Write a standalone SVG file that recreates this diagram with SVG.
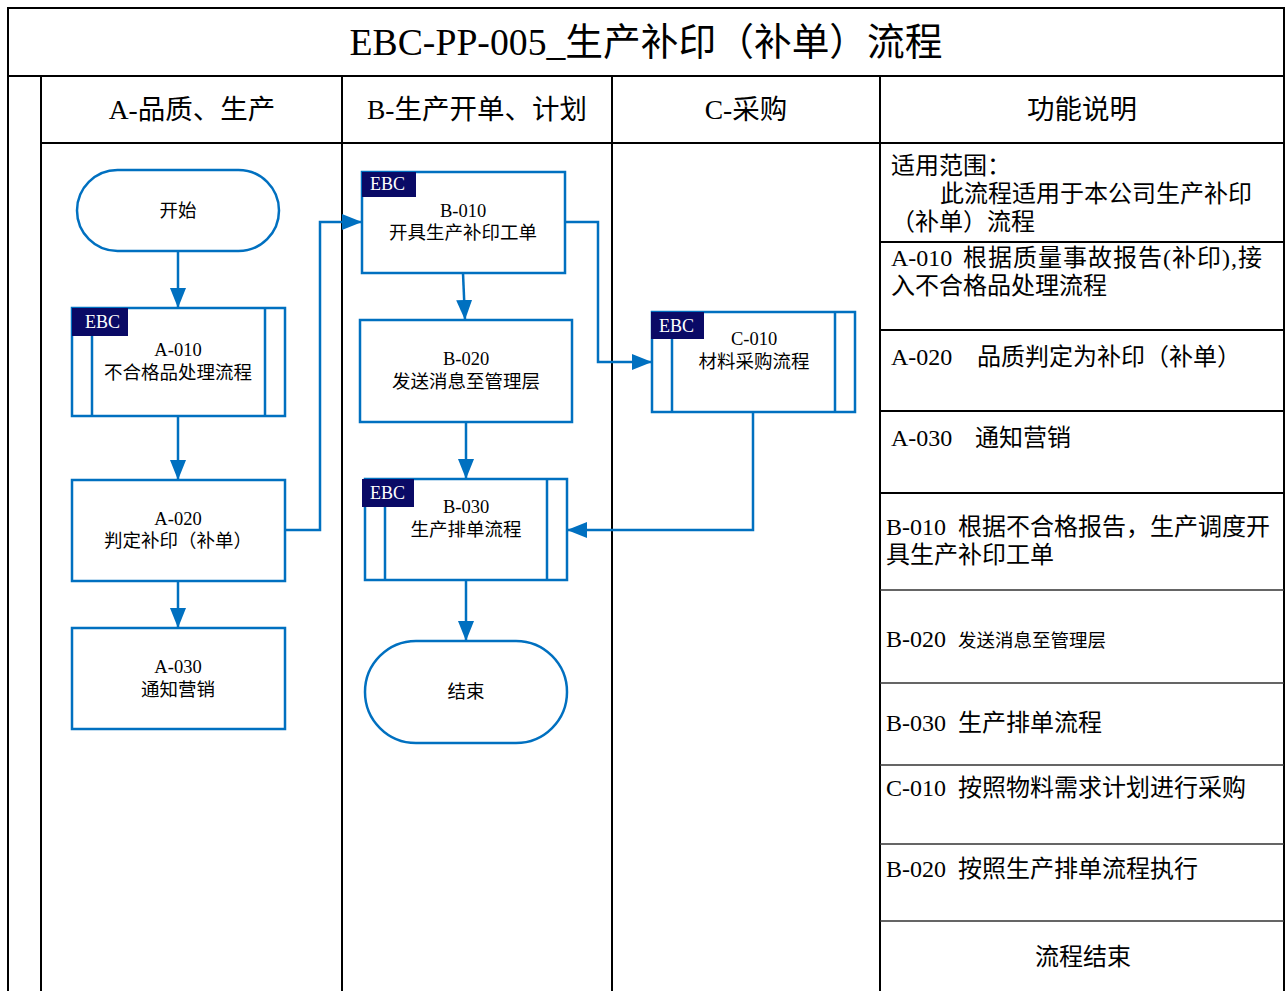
<svg xmlns="http://www.w3.org/2000/svg" width="1285" height="991" viewBox="0 0 1285 991">
<style>
.frame{stroke:#000;stroke-width:2;fill:none}
.thin{stroke:#333;stroke-width:1.5;fill:none}
.box{fill:#fff;stroke:#0070C0;stroke-width:2.5}
.sub{stroke:#0070C0;stroke-width:2.5;fill:none}
.tag{fill:#0a0a66}
.tagt{font-family:"Liberation Serif","Noto Sans CJK SC",serif;font-size:18px;fill:#fff}
.nt{font-family:"Liberation Serif","Noto Sans CJK SC",serif;font-size:18.5px;fill:#000;text-anchor:middle}
.hd{font-family:"Liberation Serif","Noto Sans CJK SC",serif;font-size:27.5px;fill:#000;text-anchor:middle}
.ft{font-family:"Liberation Serif","Noto Sans CJK SC",serif;font-size:24px;fill:#000}
.conn{stroke:#0070C0;stroke-width:2.5;fill:none;marker-end:url(#arr)}
</style>
<defs>
<marker id="arr" viewBox="0 0 20 16" refX="20" refY="8" markerWidth="20" markerHeight="16" markerUnits="userSpaceOnUse" orient="auto">
<path d="M0,0 L20,8 L0,16 z" fill="#0070C0"/>
</marker>
</defs>
<rect x="0" y="0" width="1285" height="991" fill="#fff"/>
<g id="frame">
<path class="frame" d="M8,991 V8 H1284 V991"/>
<path class="frame" d="M8,76 H1284 M41,143 H1284 M41,76 V991 M342,76 V991 M612,76 V991 M880,76 V991"/>
<text x="646" y="55" font-family="'Liberation Serif','Noto Sans CJK SC',serif" font-size="38" text-anchor="middle" textLength="593" lengthAdjust="spacingAndGlyphs">EBC-PP-005_生产补印（补单）流程</text>
<text class="hd" x="192" y="119">A-品质、生产</text>
<text class="hd" x="477" y="119">B-生产开单、计划</text>
<text class="hd" x="746" y="119">C-采购</text>
<text class="hd" x="1082" y="119">功能说明</text>
</g>
<g id="functions">
<path class="frame" d="M880,242 H1284 M880,330 H1284 M880,411 H1284 M880,493 H1284"/>
<path class="thin" d="M880,590 H1284 M880,683 H1284 M880,765 H1284 M880,844 H1284 M880,921 H1284"/>
<text class="ft" x="891" y="174">适用范围：</text>
<text class="ft" x="940" y="202">此流程适用于本公司生产补印</text>
<text class="ft" x="891" y="230">（补单）流程</text>
<text class="ft" y="266"><tspan x="891">A-010</tspan><tspan x="963" textLength="299" lengthAdjust="spacing">根据质量事故报告(补印),接</tspan></text>
<text class="ft" x="891" y="294">入不合格品处理流程</text>
<text class="ft" y="365"><tspan x="891">A-020</tspan><tspan x="977">品质判定为补印（补单）</tspan></text>
<text class="ft" y="446"><tspan x="891">A-030</tspan><tspan x="975">通知营销</tspan></text>
<text class="ft" y="535"><tspan x="886">B-010</tspan><tspan x="958">根据不合格报告，生产调度开</tspan></text>
<text class="ft" x="886" y="563">具生产补印工单</text>
<text class="ft" y="647"><tspan x="886">B-020</tspan><tspan x="958" font-size="18.5">发送消息至管理层</tspan></text>
<text class="ft" y="731"><tspan x="886">B-030</tspan><tspan x="958">生产排单流程</tspan></text>
<text class="ft" y="796"><tspan x="886">C-010</tspan><tspan x="958">按照物料需求计划进行采购</tspan></text>
<text class="ft" y="877"><tspan x="886">B-020</tspan><tspan x="958">按照生产排单流程执行</tspan></text>
<text class="ft" x="1083" y="965" text-anchor="middle">流程结束</text>
</g>
<g id="connectors">
<path class="conn" d="M178,251 V308"/>
<path class="conn" d="M178,416 V480"/>
<path class="conn" d="M178,581 V628"/>
<path class="conn" d="M285,530 H320 V222 H362"/>
<path class="conn" d="M463,273 L465,320"/>
<path class="conn" d="M466,422 V479"/>
<path class="conn" d="M565,222 H598 V362 H652"/>
<path class="conn" d="M753,412 V530 H567"/>
<path class="conn" d="M466,580 V641"/>
</g>
<g id="start">
<rect class="box" x="77" y="170" width="202" height="81" rx="40.5"/>
<text class="nt" x="178" y="217">开始</text>
</g>
<g id="a010">
<rect class="box" x="72" y="308" width="213" height="108"/>
<path class="sub" d="M92,308 V416 M265,308 V416"/>
<rect class="tag" x="72" y="308" width="56" height="28"/>
<text class="tagt" x="85" y="328">EBC</text>
<text class="nt" x="178" y="356">A-010</text>
<text class="nt" x="178" y="379">不合格品处理流程</text>
</g>
<g id="a020">
<rect class="box" x="72" y="480" width="213" height="101"/>
<text class="nt" x="178" y="525">A-020</text>
<text class="nt" x="178" y="547">判定补印（补单）</text>
</g>
<g id="a030">
<rect class="box" x="72" y="628" width="213" height="101"/>
<text class="nt" x="178" y="673">A-030</text>
<text class="nt" x="178" y="696">通知营销</text>
</g>
<g id="b010">
<rect class="box" x="362" y="172" width="203" height="101"/>
<rect class="tag" x="362" y="172" width="54" height="25"/>
<text class="tagt" x="370" y="190">EBC</text>
<text class="nt" x="463" y="217">B-010</text>
<text class="nt" x="463" y="239">开具生产补印工单</text>
</g>
<g id="b020">
<rect class="box" x="360" y="320" width="212" height="102"/>
<text class="nt" x="466" y="365">B-020</text>
<text class="nt" x="466" y="388">发送消息至管理层</text>
</g>
<g id="b030">
<rect class="box" x="365" y="479" width="202" height="101"/>
<path class="sub" d="M385,479 V580 M547,479 V580"/>
<rect class="tag" x="362" y="479" width="52" height="28"/>
<text class="tagt" x="370" y="499">EBC</text>
<text class="nt" x="466" y="513">B-030</text>
<text class="nt" x="466" y="536">生产排单流程</text>
</g>
<g id="end">
<rect class="box" x="365" y="641" width="202" height="102" rx="51"/>
<text class="nt" x="466" y="698">结束</text>
</g>
<g id="c010">
<rect class="box" x="652" y="312" width="203" height="100"/>
<path class="sub" d="M672,312 V412 M835,312 V412"/>
<rect class="tag" x="651" y="312" width="53" height="27"/>
<text class="tagt" x="659" y="332">EBC</text>
<text class="nt" x="754" y="345">C-010</text>
<text class="nt" x="754" y="368">材料采购流程</text>
</g>
</svg>
